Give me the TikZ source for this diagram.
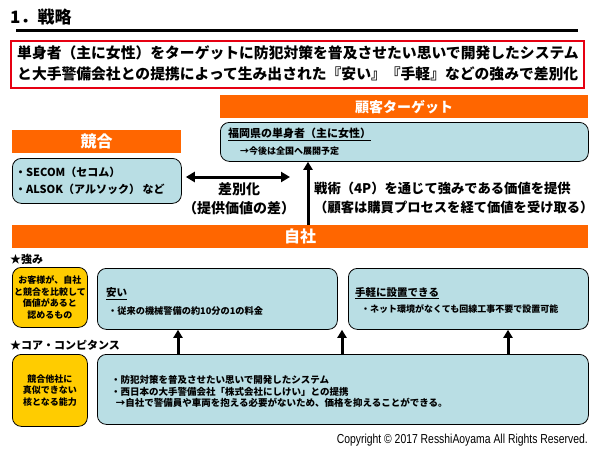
\documentclass[tikz,border=0pt]{standalone}
\usepackage{fontspec}
\setmainfont{Noto Sans CJK JP}
\newfontfamily\copyfont{Liberation Sans}[FakeStretch=0.8]
\usetikzlibrary{arrows.meta, positioning}
\definecolor{barorange}{RGB}{255,102,0}
\definecolor{boxblue}{RGB}{185,222,228}
\definecolor{boxyellow}{RGB}{255,204,0}
\definecolor{framered}{RGB}{230,0,18}
\newcommand{\jfont}[2]{\fontsize{#1}{#2}\selectfont\bfseries}

\begin{document}
\begin{tikzpicture}[x=1pt, y=-1pt,
  bar/.style={fill=barorange, text=white, font=\jfont{16}{16}, minimum height=23pt, anchor=north west, inner sep=0pt},
  bluebox/.style={draw, line width=0.8pt, fill=boxblue, rounded corners=9pt, anchor=north west, inner sep=0pt},
  yellowbox/.style={draw, line width=0.8pt, fill=boxyellow, rounded corners=9pt, anchor=north west, inner sep=0pt, align=center, font=\jfont{9}{11.5}},
  uparrow/.style={line width=3pt, -{Triangle[length=8pt, width=9pt]}},
  label/.style={anchor=west, inner sep=0pt, align=left}]
  \useasboundingbox (0,0) rectangle (600,450);
  % Heading
  \node[label, font=\jfont{17}{17}] (title) at (10,17) {1．戦略};
  \draw[line width=3pt] (16,30) -- (578,30);
  \node[draw=framered, line width=2.2pt, anchor=north west, minimum width=573pt, minimum height=47pt, inner sep=0pt] (lead) at (10,40) {};
  \node[label, font=\jfont{14.8}{21}] (leadtext) at (17,63.5) {単身者（主に女性）をターゲットに防犯対策を普及させたい思いで開発したシステム\\と大手警備会社との提携によって生み出された『安い』『手軽』などの強みで差別化};
  % Customer target
  \node[bar, minimum width=368pt, font=\jfont{14}{14}] (targetbar) at (220,95) {顧客ターゲット};
  \node[bluebox, minimum width=368pt, minimum height=39pt] (target) at (220,122) {};
  \node[label, font=\jfont{11}{11}] (targett1) at (228,134) {\underline{福岡県の単身者（主に女性）}};
  \node[label, font=\jfont{9}{9}] (targett2) at (240,151) {→今後は全国へ展開予定};
  % Competitors
  \node[bar, minimum width=169pt] (rivalbar) at (12,130) {競合};
  \node[bluebox, minimum width=169pt, minimum height=45pt] (rival) at (12,158) {};
  \node[label, font=\jfont{11}{17}] (rivaltext) at (15,180.5) {・SECOM（セコム）\\・ALSOK（アルソック）\ など};
  \coordinate (diffend) at (290,177);
  \draw[line width=3pt, {Triangle[length=9pt, width=10pt]}-{Triangle[length=9pt, width=10pt]}, shorten <=4pt] (rival.east |- diffend) -- (diffend);
  \node[font=\jfont{14}{19}, align=center] (diff) at (239,199) {差別化\\（提供価値の差）};
  % Own company
  \node[bar, minimum width=576pt] (selfbar) at (12,225) {自社};
  \coordinate (tacx) at (308,0);
  \draw[uparrow] (selfbar.north -| tacx) -- (target.south -| tacx);
  \node[label, font=\jfont{13.3}{19}] (tactics) at (314,197.5) {戦術（4P）を通じて強みである価値を提供\\（顧客は購買プロセスを経て価値を受け取る）};
  % Strengths
  \node[label, font=\jfont{11}{11}] (stronghead) at (10,259) {★強み};
  \node[yellowbox, minimum width=75pt, minimum height=60pt] (strongnote) at (12,267) {お客様が、自社\\と競合を比較して\\価値があると\\認めるもの};
  \node[bluebox, minimum width=240pt, minimum height=61pt] (cheap) at (97,268) {};
  \node[label, font=\jfont{10.5}{10.5}] (cheapt1) at (106,294) {\underline{安い}};
  \node[label, font=\jfont{9.2}{9.2}] (cheapt2) at (108,311) {・従来の機械警備の約10分の1の料金};
  \node[bluebox, minimum width=240pt, minimum height=61pt] (easy) at (348,268) {};
  \node[label, font=\jfont{10.5}{10.5}] (easyt1) at (355,293) {\underline{手軽に設置できる}};
  \node[label, font=\jfont{9}{9}] (easyt2) at (361,309) {・ネット環境がなくても回線工事不要で設置可能};
  % Core competence
  \node[label, font=\jfont{11}{11}] (corehead) at (10,345) {★コア・コンピタンス};
  \node[yellowbox, minimum width=75pt, minimum height=72pt] (corenote) at (12,354) {競合他社に\\真似できない\\核となる能力};
  \node[bluebox, minimum width=491pt, minimum height=70pt] (core) at (97,354) {};
  \node[label, font=\jfont{9.5}{11.5}] (coretext) at (111,391.5) {・防犯対策を普及させたい思いで開発したシステム\\・西日本の大手警備会社「株式会社にしけい」との提携\\\hspace{0.5em}→自社で警備員や車両を抱える必要がないため、価格を抑えることができる。};
  \foreach \ax in {178,342,508}
    \draw[uparrow] (\ax,0 |- core.north) -- (\ax,0 |- cheap.south);
  \node[anchor=east, inner sep=0pt, font=\copyfont\fontsize{13}{13}\selectfont] (copy) at (588,440) {Copyright \textcopyright\ 2017 ResshiAoyama All Rights Reserved.};
\end{tikzpicture}
\end{document}
